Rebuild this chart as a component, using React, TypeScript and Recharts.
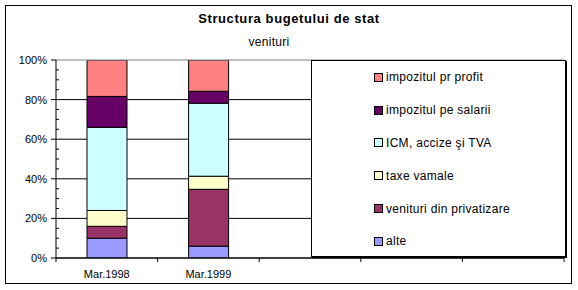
import React from 'react';
import { BarChart, Bar, XAxis, YAxis, CartesianGrid, ReferenceLine } from 'recharts';

// Structura bugetului de stat - venituri (% din total)
const categories = ['Mar.1998', 'Mar.1999', '', '', ''];
const alte = [10, 6];
const privatizare = [6, 28.7];
const taxeVamale = [8, 6.6];
const icm = [42, 36.9];
const salarii = [15.6, 6];
const profit = [18.4, 15.8];
const yTicks = [0, 5, 10, 15, 20, 25, 30, 35, 40, 45, 50, 55, 60, 65, 70, 75, 80, 85, 90, 95, 100];

const series = [
  { key: 'alte', name: 'alte', color: '#9999FF', values: alte },
  { key: 'privatizare', name: 'venituri din privatizare', color: '#993366', values: privatizare },
  { key: 'taxe', name: 'taxe vamale', color: '#FFFFCC', values: taxeVamale },
  { key: 'icm', name: 'ICM, accize şi TVA', color: '#CCFFFF', values: icm },
  { key: 'salarii', name: 'impozitul pe salarii', color: '#660066', values: salarii },
  { key: 'profit', name: 'impozitul pr profit', color: '#FF8080', values: profit },
];

const data = categories.map((cat, i) => {
  const row: Record<string, any> = { cat };
  series.forEach(s => {
    if (s.values[i] !== undefined) row[s.key] = s.values[i];
  });
  return row;
});

const FONT = '"Liberation Sans", Arial, sans-serif';
const W = 578;
const H = 290;
const LEFT = 56;
const RIGHT = 14;
const BAND = (W - LEFT - RIGHT) / categories.length;

const YTick = (props: any) => {
  const { x, y, payload } = props;
  const major = payload.value % 20 === 0;
  return (
    <g>
      {major ? (
        <>
          <line x1={x - 5} x2={x} y1={y} y2={y} stroke="#000" />
          <text x={x - 9} y={y + 4} textAnchor="end" fontSize={11} fontFamily={FONT} fill="#000">
            {payload.value}%
          </text>
        </>
      ) : (
        <line x1={x} x2={x + 3} y1={y} y2={y} stroke="#000" />
      )}
    </g>
  );
};

const XTick = (props: any) => {
  const { x, y, payload, index } = props;
  return (
    <g>
      <line x1={x - BAND / 2} x2={x - BAND / 2} y1={y} y2={y + 4} stroke="#000" />
      {index === categories.length - 1 && (
        <line x1={x + BAND / 2} x2={x + BAND / 2} y1={y} y2={y + 4} stroke="#000" />
      )}
      <text x={x} y={y + 20} textAnchor="middle" fontSize={11} fontFamily={FONT} fill="#000">
        {payload.value}
      </text>
    </g>
  );
};

const LegendBox = () => (
  <div
    style={{
      position: 'absolute',
      left: 311,
      top: 60,
      width: 255,
      height: 197,
      boxSizing: 'border-box',
      background: '#fff',
      border: '1px solid #000',
      boxShadow: '1px 1px 0 #000',
      paddingLeft: 62,
      fontFamily: FONT,
      fontSize: 12,
      letterSpacing: 0.3,
      color: '#000',
    }}
  >
    {[...series].reverse().map(s => (
      <div key={s.key} style={{ height: 32.8, display: 'flex', alignItems: 'center', whiteSpace: 'nowrap' }}>
        <span
          style={{
            display: 'inline-block',
            width: 7,
            height: 7,
            background: s.color,
            border: '1px solid #000',
            marginRight: 3,
          }}
        />
        {s.name}
      </div>
    ))}
  </div>
);

const App: React.FC = () => {
  return (
    <div style={{ position: 'absolute', left: 0, top: 0, width: W, height: H, background: '#fff' }}>
      <div
        style={{
          position: 'absolute',
          left: 5,
          top: 5,
          width: 567,
          height: 279,
          boxSizing: 'border-box',
          border: '1px solid #000',
        }}
      />
      <div
        style={{
          position: 'absolute',
          left: 0,
          width: W,
          top: 11,
          textAlign: 'center',
          fontFamily: FONT,
          fontWeight: 'bold',
          fontSize: 13,
          letterSpacing: 0.6,
        }}
      >
        Structura bugetului de stat
      </div>
      <div
        style={{
          position: 'absolute',
          left: 169,
          width: 200,
          top: 35,
          textAlign: 'center',
          fontFamily: FONT,
          fontSize: 12,
          letterSpacing: 0.3,
        }}
      >
        venituri
      </div>
      <div style={{ position: 'absolute', left: 0, top: 0 }}>
        <BarChart
          width={W}
          height={H}
          data={data}
          margin={{ top: 60, right: RIGHT, bottom: 2, left: 0 }}
          barSize={40}
        >
          <CartesianGrid vertical={false} stroke="#000" horizontalValues={[0, 20, 40, 60, 80]} />
          <ReferenceLine y={100} stroke="#808080" />
          <XAxis
            dataKey="cat"
            height={30}
            stroke="#000"
            tickLine={false}
            tickSize={0}
            tickMargin={0}
            tick={<XTick />}
            interval={0}
          />
          <YAxis
            type="number"
            domain={[0, 100]}
            ticks={yTicks}
            width={LEFT}
            stroke="#000"
            tickLine={false}
            tickSize={0}
            tickMargin={0}
            tick={<YTick />}
            interval={0}
            allowDataOverflow
          />
          {series.map(s => (
            <Bar
              key={s.key}
              dataKey={s.key}
              name={s.name}
              stackId="a"
              fill={s.color}
              stroke="#000"
              strokeWidth={1}
              isAnimationActive={false}
            />
          ))}
        </BarChart>
      </div>
      <LegendBox />
    </div>
  );
};

export default App;
